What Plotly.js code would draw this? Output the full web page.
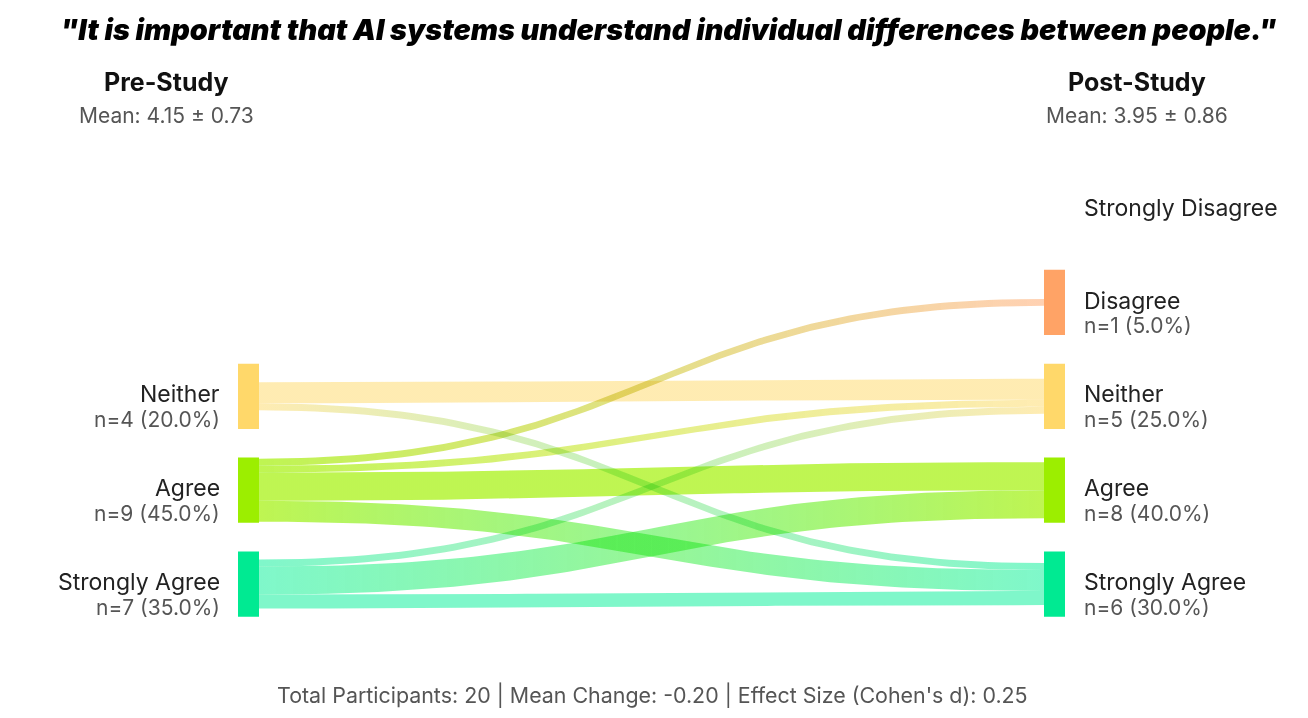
<!DOCTYPE html>
<html>
<head>
<meta charset="utf-8">
<script src="https://cdn.plot.ly/plotly-3.0.1.min.js"></script>
<style>
  html, body { margin: 0; padding: 0; background: #fff; }
  #chart { width: 1308px; height: 718px; }
  /* overlapping flows darken each other */
  #chart path.js-fill { mix-blend-mode: multiply; }
</style>
</head>
<body>
<div id="chart"></div>
<script>
// survey responses, pre vs post
var categories = ['Strongly Disagree', 'Disagree', 'Neither', 'Agree', 'Strongly Agree'];
var scores = [1, 2, 3, 4, 5];
var preCounts = [0, 0, 4, 9, 7];
var postCounts = [0, 1, 5, 8, 6];

// transitions pre -> post
var flowSource = ['Neither', 'Neither', 'Agree', 'Agree', 'Agree', 'Agree', 'Strongly Agree', 'Strongly Agree', 'Strongly Agree'];
var flowTarget = ['Neither', 'Strongly Agree', 'Disagree', 'Neither', 'Agree', 'Strongly Agree', 'Neither', 'Agree', 'Strongly Agree'];
var flowCount = [3, 1, 1, 1, 4, 3, 1, 4, 2];

var nodeColors = ['#ff6b6b', '#ffa366', '#ffd86a', '#9cee00', '#00ea92'];
var linkColors = ['rgba(255,107,107,0.5)', 'rgba(255,163,102,0.5)', 'rgba(255,217,102,0.5)',
                  'rgba(160,240,0,0.68)', 'rgba(0,240,150,0.5)'];

var question = '"It is important that AI systems understand individual differences between people."';

// layout constants
var PRE_X = 238, POST_X = 1044, NODE_W = 21;
var NODE_H = 0.695;   // in category slots
var UNIT = 0.0745;    // band thickness per participant

function stats(counts) {
  var n = 0, s = 0;
  counts.forEach(function (c, i) { n += c; s += c * scores[i]; });
  var m = s / n, v = 0;
  counts.forEach(function (c, i) { v += c * Math.pow(scores[i] - m, 2); });
  return { n: n, mean: m, sd: Math.sqrt(v / n) };
}
var pre = stats(preCounts), post = stats(postCounts);
var dCohen = Math.abs(post.mean - pre.mean) / Math.sqrt((pre.sd * pre.sd + post.sd * post.sd) / 2);

// band offsets
var srcNext = {}, tgtNext = {};
categories.forEach(function (c, i) {
  srcNext[c] = i - preCounts[i] * UNIT / 2;
  tgtNext[c] = i - postCounts[i] * UNIT / 2;
});

// cubic bezier with both control points given
function cubic(p0, p1, p2, p3, t) {
  var u = 1 - t;
  return p0 * u * u * u + 3 * p1 * u * u * t + 3 * p2 * u * t * t + p3 * t * t * t;
}

var data = [];
flowSource.forEach(function (s, k) {
  var t = flowTarget[k], w = flowCount[k] * UNIT;
  var si = categories.indexOf(s), ti = categories.indexOf(t);
  var sy = srcNext[s], ty = tgtNext[t];
  srcNext[s] += w; tgtNext[t] += w;
  var x0 = PRE_X + NODE_W, x1 = POST_X, xm = (x0 + x1) / 2;
  var xs = [], ys = [], i, f;
  for (i = 0; i <= 80; i++) {
    f = i / 80;
    xs.push(cubic(x0, xm, xm, x1, f)); ys.push(cubic(sy, sy, ty, ty, f));
  }
  for (i = 80; i >= 0; i--) {
    f = i / 80;
    xs.push(cubic(x0, xm, xm, x1, f)); ys.push(cubic(sy + w, sy + w, ty + w, ty + w, f));
  }
  data.push({
    x: xs, y: ys, type: 'scatter', mode: 'lines', fill: 'toself',
    line: { width: 0 }, fillcolor: linkColors[si],
    fillgradient: { type: 'horizontal', colorscale: [[0, linkColors[si]], [1, linkColors[ti]]] },
    hoverinfo: 'skip', showlegend: false
  });
});

var shapes = [], annotations = [];
var labFont = { family: 'Inter, sans-serif', size: 23, color: '#222' };
var subFont = { family: 'Inter, sans-serif', size: 21, color: '#555' };

categories.forEach(function (c, i) {
  if (preCounts[i] > 0) {
    shapes.push({ type: 'rect', xref: 'x', yref: 'y', layer: 'above', line: { width: 0 },
      x0: PRE_X, x1: PRE_X + NODE_W, y0: i - NODE_H / 2, y1: i + NODE_H / 2, fillcolor: nodeColors[i] });
    annotations.push({ x: PRE_X - 16, y: i - 0.02, xref: 'x', yref: 'y', text: c, showarrow: false,
      xanchor: 'right', yanchor: 'middle', font: labFont });
    annotations.push({ x: PRE_X - 16, y: i + 0.245, xref: 'x', yref: 'y', showarrow: false,
      text: 'n=' + preCounts[i] + ' (' + (100 * preCounts[i] / pre.n).toFixed(1) + '%)',
      xanchor: 'right', yanchor: 'middle', font: subFont });
  }
  if (postCounts[i] > 0) {
    shapes.push({ type: 'rect', xref: 'x', yref: 'y', layer: 'above', line: { width: 0 },
      x0: POST_X, x1: POST_X + NODE_W, y0: i - NODE_H / 2, y1: i + NODE_H / 2, fillcolor: nodeColors[i] });
    annotations.push({ x: POST_X + NODE_W + 17, y: i + 0.245, xref: 'x', yref: 'y', showarrow: false,
      text: 'n=' + postCounts[i] + ' (' + (100 * postCounts[i] / post.n).toFixed(1) + '%)',
      xanchor: 'left', yanchor: 'middle', font: subFont });
  }
  annotations.push({ x: POST_X + NODE_W + 17, y: postCounts[i] > 0 ? i - 0.02 : i, xref: 'x', yref: 'y',
    text: c, showarrow: false, xanchor: 'left', yanchor: 'middle', font: labFont });
});

var headFont = { family: 'Inter, sans-serif', size: 25, color: '#111', weight: 700 };
var meanFont = { family: 'Inter, sans-serif', size: 21, color: '#555' };
annotations.push(
  { x: 0.127, y: 0.8858, xref: 'paper', yref: 'paper', xanchor: 'center', yanchor: 'middle',
    text: 'Pre-Study', showarrow: false, font: headFont },
  { x: 0.127, y: 0.8398, xref: 'paper', yref: 'paper', xanchor: 'center', yanchor: 'middle',
    showarrow: false, font: meanFont,
    text: 'Mean: ' + pre.mean.toFixed(2) + ' ± ' + pre.sd.toFixed(2) },
  { x: 0.869, y: 0.8858, xref: 'paper', yref: 'paper', xanchor: 'center', yanchor: 'middle',
    text: 'Post-Study', showarrow: false, font: headFont },
  { x: 0.869, y: 0.8398, xref: 'paper', yref: 'paper', xanchor: 'center', yanchor: 'middle',
    showarrow: false, font: meanFont,
    text: 'Mean: ' + post.mean.toFixed(2) + ' ± ' + post.sd.toFixed(2) },
  { x: 0.4985, y: 0.032, xref: 'paper', yref: 'paper', xanchor: 'center', yanchor: 'middle',
    showarrow: false, font: { family: 'Inter, sans-serif', size: 21.4, color: '#555' },
    text: 'Total Participants: ' + pre.n + ' | Mean Change: ' + (post.mean - pre.mean).toFixed(2) +
          ' | Effect Size (Cohen\'s d): ' + dCohen.toFixed(2) }
);

var layout = {
  width: 1308, height: 718,
  margin: { l: 0, r: 0, t: 0, b: 0 },
  paper_bgcolor: '#fff', plot_bgcolor: '#fff',
  title: { text: '<i>' + question + '</i>', x: 0.511, xanchor: 'center', y: 0.958, yanchor: 'middle',
    font: { family: 'Inter, sans-serif', size: 28.8, weight: 900, color: '#000' } },
  xaxis: { range: [0, 1308], visible: false, fixedrange: true },
  yaxis: { range: [5.426, -2.22], visible: false, fixedrange: true },
  shapes: shapes,
  annotations: annotations,
  showlegend: false
};

Plotly.newPlot('chart', data, layout, { displayModeBar: false, staticPlot: true });
</script>
</body>
</html>
